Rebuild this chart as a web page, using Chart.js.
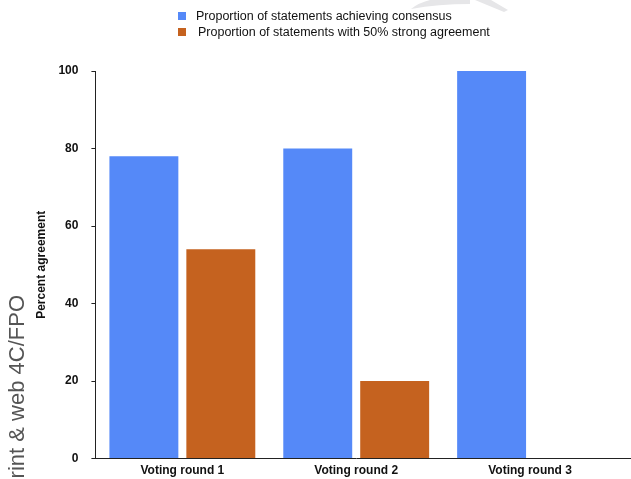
<!DOCTYPE html>
<html>
<head>
<meta charset="utf-8">
<script src="https://cdn.jsdelivr.net/npm/chart.js@4.4.0/dist/chart.umd.min.js"></script>
<style>
  html, body { margin: 0; padding: 0; background: #fff; }
  #wrap { position: relative; width: 631px; height: 479px; overflow: hidden; }
  #wrap canvas { position: absolute; left: 0; top: 0; }
  .lg { position: absolute; font: 12.5px "Liberation Sans", Arial, sans-serif; color: #111; white-space: nowrap; line-height: 14px; }
  .sw { position: absolute; width: 8px; height: 8px; }
</style>
</head>
<body>
<div id="wrap">
  <canvas id="c" width="631" height="479"></canvas>
  <div class="sw" id="sw1" style="left:178px;top:12px;"></div>
  <div class="lg" id="lg1" style="left:196px;top:9px;"></div>
  <div class="sw" id="sw2" style="left:178px;top:28px;"></div>
  <div class="lg" id="lg2" style="left:198px;top:25px;"></div>
</div>
<script>
const categories = ["Voting round 1", "Voting round 2", "Voting round 3"];
const seriesNames = ["Proportion of statements achieving consensus", "Proportion of statements with 50% strong agreement"];
const consensus = [78, 80, 100];
const strongAgreement = [54, 20, 0];
const yTicks = [0, 20, 40, 60, 80, 100];
const colors = ["#5589F8", "#C5621F"];

document.getElementById('sw1').style.background = colors[0];
document.getElementById('sw2').style.background = colors[1];
document.getElementById('lg1').textContent = seriesNames[0];
document.getElementById('lg2').textContent = seriesNames[1];

const decor = {
  id: 'decor',
  beforeDraw(chart) {
    const ctx = chart.ctx;
    ctx.save();
    ctx.fillStyle = '#e6e6e8';
    ctx.beginPath();
    ctx.moveTo(411, 9);
    ctx.quadraticCurveTo(418, 3, 430, 0);
    ctx.lineTo(470, 0);
    ctx.lineTo(470, 4);
    ctx.quadraticCurveTo(438, 4, 411, 9);
    ctx.closePath();
    ctx.fill();
    ctx.beginPath();
    ctx.moveTo(475, 0);
    ctx.lineTo(491, 0);
    ctx.lineTo(508, 10);
    ctx.lineTo(504, 12);
    ctx.closePath();
    ctx.fill();
    ctx.restore();
  },
  afterDraw(chart) {
    const ctx = chart.ctx;
    const a = chart.chartArea;
    const xs = chart.scales.x;
    const yLine = Math.round(xs.top - 0.5) + 0.5;
    ctx.save();
    ctx.strokeStyle = '#222';
    ctx.lineWidth = 1;
    ctx.beginPath();
    ctx.moveTo(a.right - 1, yLine);
    ctx.lineTo(chart.width, yLine);
    ctx.stroke();
    ctx.translate(24, 295);
    ctx.rotate(-Math.PI / 2);
    ctx.fillStyle = '#555';
    ctx.font = '22px "Liberation Sans", Arial, sans-serif';
    ctx.textAlign = 'right';
    ctx.textBaseline = 'alphabetic';
    ctx.fillText('print & web 4C/FPO', 0, 0);
    ctx.restore();
  }
};

new Chart(document.getElementById('c'), {
  type: 'bar',
  data: {
    labels: categories,
    datasets: [
      { label: seriesNames[0], data: consensus, backgroundColor: colors[0], borderWidth: 0 },
      { label: seriesNames[1], data: strongAgreement, backgroundColor: colors[1], borderWidth: 0 }
    ]
  },
  options: {
    responsive: false,
    animation: false,
    events: [],
    layout: { padding: { top: 71, right: 14, bottom: -4, left: 34 } },
    plugins: { legend: { display: false }, tooltip: { enabled: false } },
    datasets: { bar: { categoryPercentage: 0.885, barPercentage: 0.896 } },
    scales: {
      x: {
        grid: { display: false, drawTicks: false },
        border: { display: true, color: '#222', width: 1 },
        ticks: { color: '#111', padding: 5, font: { family: '"Liberation Sans", Arial, sans-serif', size: 12, weight: 'bold' } }
      },
      y: {
        min: 0, max: 100,
        afterBuildTicks(scale) { scale.ticks = yTicks.map(v => ({ value: v })); },
        grid: { display: true, drawOnChartArea: false, drawTicks: true, tickLength: 4, color: '#222' },
        border: { display: true, color: '#222', width: 1 },
        ticks: { color: '#111', padding: 13, font: { family: '"Liberation Sans", Arial, sans-serif', size: 12, weight: 'bold' } },
        title: { display: true, text: 'Percent agreement', color: '#111', padding: { top: 0, bottom: -3 }, font: { family: '"Liberation Sans", Arial, sans-serif', size: 12, weight: 'bold' } }
      }
    }
  },
  plugins: [decor]
});
</script>
</body>
</html>
